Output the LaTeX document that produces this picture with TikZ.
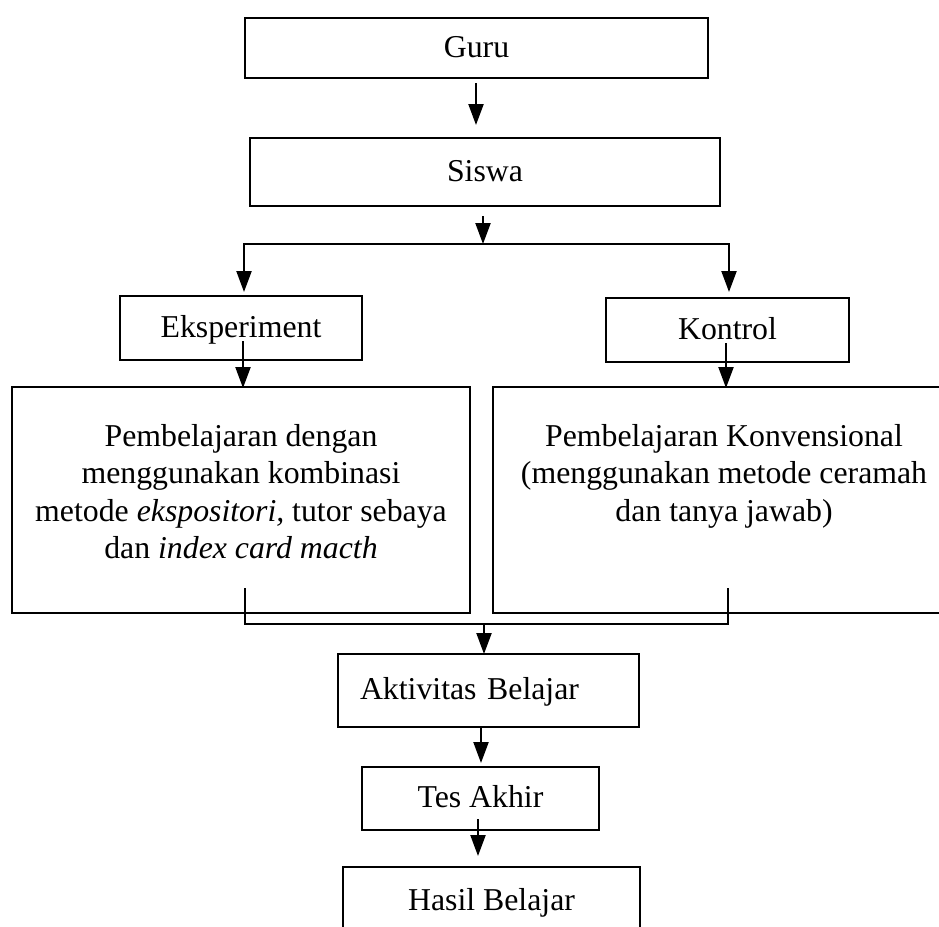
\documentclass[tikz,border=0pt]{standalone}
\usepackage{fontspec}
\setmainfont{Liberation Serif}
\usetikzlibrary{arrows.meta}
\tikzset{box/.style={draw,line width=1.4pt,inner sep=0pt,text height=20pt,text depth=2pt}}
\tikzset{para/.style={align=center,inner sep=0pt,anchor=north}}
\tikzset{flow/.style={-{Triangle[width=15pt,length=21pt]},line width=2.2pt}}
\tikzset{merge/.style={line width=1.4pt}}

\begin{document}
\begin{tikzpicture}[x=1pt,y=-1pt,font=\fontsize{31.8}{37.5}\selectfont]
	\useasboundingbox (0,0) rectangle (939,926);

	%% Boxes
	\node[box,minimum width=463pt,minimum height=60pt] (guru) at (476.5,48) {Guru};
	\node[box,minimum width=470pt,minimum height=68pt] (siswa) at (485,172) {Siswa};
	\node[box,minimum width=242pt,minimum height=64pt] (eksp) at (241,328) {Eksperiment};
	\node[box,minimum width=243pt,minimum height=64pt] (kontrol) at (727.5,330) {Kontrol};
	\node[box,minimum width=458pt,minimum height=226pt] (pbl) at (241,500) {};
	\node[box,minimum width=462pt,minimum height=226pt] (pkv) at (724,500) {};
	\node[box,minimum width=301pt,minimum height=73pt,text width=257pt,align=left] (aktiv) at (488.5,690.5) {Aktivitas Belajar};
	\node[box,minimum width=237pt,minimum height=63pt] (tes) at (480.5,798.5) {Tes Akhir};
	\node[box,minimum width=297pt,minimum height=68pt] (hasil) at (491.5,901) {Hasil Belajar};
	%%

	\node[para] (pbltxt) at (241,424) {Pembelajaran dengan\\menggunakan kombinasi\\metode \textit{ekspositori,} tutor sebaya\\dan \textit{index card macth}};
	\node[para] (pkvtxt) at (724,424) {Pembelajaran Konvensional\\(menggunakan metode ceramah\\dan tanya jawab)};

	%% Arrows
	\coordinate (a1) at (476,83);   \coordinate (b1) at (476,125);
	\coordinate (a2) at (483,216);  \coordinate (b2) at (483,244);
	\coordinate (brL) at (244,292); \coordinate (brR) at (729,292);
	\coordinate (a3) at (243,341);  \coordinate (b3) at (243,388);
	\coordinate (a4) at (726,343);  \coordinate (b4) at (726,388);
	\coordinate (mgL) at (245,588); \coordinate (mgR) at (728,588);
	\coordinate (a5) at (484,624);  \coordinate (b5) at (484,654);
	\coordinate (a6) at (481,727);  \coordinate (b6) at (481,763);
	\coordinate (a7) at (478,819);  \coordinate (b7) at (478,856);

	\draw[flow] (a1) -- (b1);
	\draw[flow] (a2) -- (b2);
	\draw[flow] (b2) -| (brL);
	\draw[flow] (b2) -| (brR);
	\draw[flow] (a3) -- (b3);
	\draw[flow] (a4) -- (b4);
	\draw[merge] (mgL) -- ++(0,36) -| (mgR);
	\draw[flow] (a5) -- (b5);
	\draw[flow] (a6) -- (b6);
	\draw[flow] (a7) -- (b7);

\end{tikzpicture}
\end{document}
